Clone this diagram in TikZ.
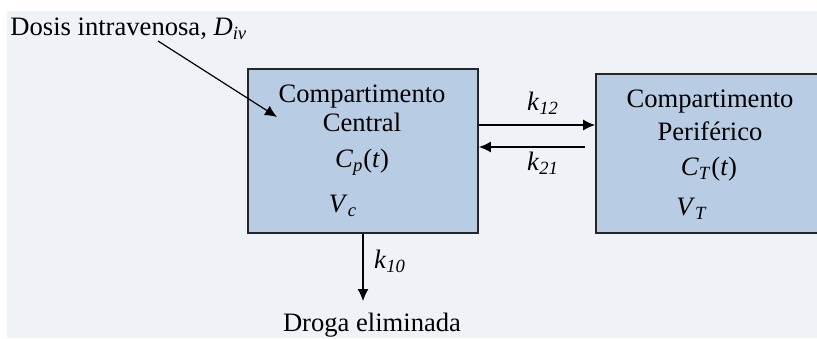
\documentclass[tikz,border=0pt]{standalone}
\usepackage{fontspec}
\setmainfont{Liberation Serif}
\usetikzlibrary{arrows.meta}
\definecolor{bgpanel}{HTML}{EFF3F8}
\definecolor{compfill}{HTML}{B8CCE4}
\newcommand{\isub}[2]{\textit{#1}\textsubscript{\textit{#2}}}

\begin{document}
\begin{tikzpicture}[x=0.5pt,y=-0.5pt,
  comp/.style={draw=black!85,line width=0.9pt,fill=compfill,inner sep=0pt},
  txt/.style={anchor=base,inner sep=0pt,font=\fontsize{13.3}{16}\selectfont},
  flow/.style={-{Latex[length=6pt,width=5.5pt]},line width=0.6pt}]

\useasboundingbox (0,0) rectangle (817,338);
\fill[bgpanel] (7,11) rectangle (817,338);

% compartments
\node[comp,minimum width=115pt,minimum height=82pt] (central) at (363,151) {};
\node[comp,minimum width=117pt,minimum height=79.5pt] (peri) at (713,153.5) {};

\node[txt] (c1) at (362,102) {Compartimento};
\node[txt] (c2) at (362,131) {Central};
\node[txt] (c3) at (362,167) {\isub{C}{p}(\textit{t})};
\node[txt] (c4) at (343,212) {\isub{V}{c}};

\node[txt] (p1) at (710,107) {Compartimento};
\node[txt] (p2) at (710,140) {Periférico};
\node[txt] (p3) at (709,175) {\isub{C}{T}(\textit{t})};
\node[txt] (p4) at (692,215) {\isub{V}{T}};

% dose
\node[txt,anchor=base west] (dosis) at (10,35) {Dosis intravenosa, \isub{D}{iv}};
\coordinate (dstart) at (158,41);
\coordinate (dend) at (277,117);
\draw[flow] (dstart) -- (dend);

% exchange
\draw[flow] (central.east |- 0,125) -- (peri.west |- 0,125);
\coordinate (k21s) at (585,147);
\draw[flow] (k21s) -- (central.east |- k21s);
\node[txt] (k12) at (543,110) {\isub{k}{12}};
\node[txt] (k21) at (543,170) {\isub{k}{21}};

% elimination
\coordinate (elim) at (363,301);
\draw[flow] (central.south) -- (elim);
\node[txt] (k10) at (390,268) {\isub{k}{10}};
\node[txt] (droga) at (372,331) {Droga eliminada};

\end{tikzpicture}
\end{document}
